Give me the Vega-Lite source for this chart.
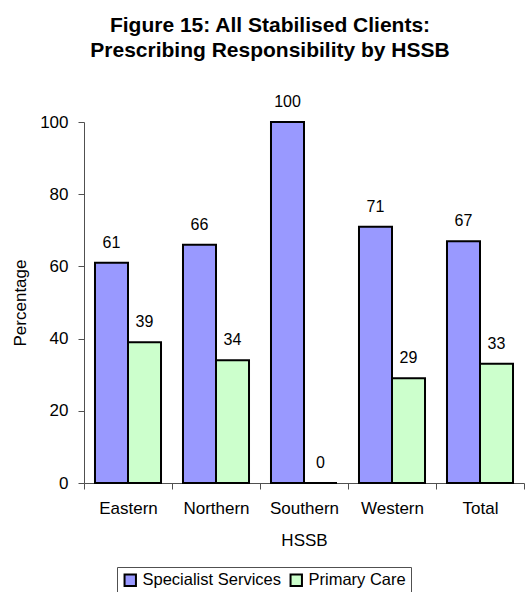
{
  "$schema": "https://vega.github.io/schema/vega-lite/v6.json",
  "autosize": "none",
  "width": 440,
  "height": 361,
  "padding": {"left": 84, "top": 122, "right": 6, "bottom": 109},
  "background": "white",
  "title": {
    "text": ["Figure 15: All Stabilised Clients:", "Prescribing Responsibility by HSSB"],
    "font": "Liberation Sans",
    "fontSize": 21,
    "fontWeight": "bold",
    "lineHeight": 25,
    "anchor": "middle",
    "dx": -34,
    "offset": 33,
    "color": "black"
  },
  "config": {
    "view": {"stroke": null},
    "font": "Liberation Sans",
    "axis": {"grid": false, "domainColor": "#505050", "tickColor": "#505050", "labelColor": "black", "titleColor": "black", "labelFont": "Liberation Sans", "titleFont": "Liberation Sans"}
  },
  "data": {
    "values": [
      {"HSSB": "Eastern", "Type": "Specialist Services", "Percentage": 61},
      {"HSSB": "Eastern", "Type": "Primary Care", "Percentage": 39},
      {"HSSB": "Northern", "Type": "Specialist Services", "Percentage": 66},
      {"HSSB": "Northern", "Type": "Primary Care", "Percentage": 34},
      {"HSSB": "Southern", "Type": "Specialist Services", "Percentage": 100},
      {"HSSB": "Southern", "Type": "Primary Care", "Percentage": 0},
      {"HSSB": "Western", "Type": "Specialist Services", "Percentage": 71},
      {"HSSB": "Western", "Type": "Primary Care", "Percentage": 29},
      {"HSSB": "Total", "Type": "Specialist Services", "Percentage": 67},
      {"HSSB": "Total", "Type": "Primary Care", "Percentage": 33}
    ]
  },
  "encoding": {
    "x": {
      "field": "HSSB",
      "type": "nominal",
      "sort": ["Eastern", "Northern", "Southern", "Western", "Total"],
      "scale": {"paddingInner": 0, "paddingOuter": 0},
      "axis": {"labelAngle": 0, "labelFontSize": 17, "titleFontSize": 17, "titleFontWeight": "normal", "tickBand": "extent", "tickSize": 6, "labelPadding": 11, "titlePadding": 16, "title": "HSSB"}
    },
    "xOffset": {
      "field": "Type",
      "type": "nominal",
      "sort": ["Specialist Services", "Primary Care"],
      "scale": {"paddingInner": 0, "paddingOuter": 0.333}
    },
    "y": {
      "field": "Percentage",
      "type": "quantitative",
      "scale": {"domain": [0, 100], "nice": false},
      "axis": {"values": [0, 20, 40, 60, 80, 100], "labelFontSize": 17, "titleFontSize": 17, "titleFontWeight": "normal", "tickSize": 6, "labelPadding": 10, "titlePadding": 10, "title": "Percentage"}
    }
  },
  "layer": [
    {
      "mark": {"type": "bar", "stroke": "black", "strokeWidth": 2},
      "encoding": {
        "color": {
          "field": "Type",
          "type": "nominal",
          "sort": ["Specialist Services", "Primary Care"],
          "scale": {"domain": ["Specialist Services", "Primary Care"], "range": ["#9999FF", "#CCFFCC"]},
          "legend": {
            "title": null,
            "orient": "none",
            "legendX": 33,
            "legendY": 445,
            "direction": "horizontal",
            "strokeColor": "#505050",
            "padding": 5,
            "labelFontSize": 16.5,
            "labelColor": "black",
            "labelFont": "Liberation Sans",
            "symbolType": "square",
            "symbolSize": 130,
            "symbolStrokeColor": "black",
            "symbolStrokeWidth": 2,
            "symbolOpacity": 1,
            "labelOffset": 4,
            "columnPadding": 5
          }
        }
      }
    },
    {
      "mark": {"type": "text", "baseline": "bottom", "dy": -12, "fontSize": 16, "font": "Liberation Sans", "color": "black"},
      "encoding": {"text": {"field": "Percentage", "type": "quantitative"}}
    }
  ]
}
